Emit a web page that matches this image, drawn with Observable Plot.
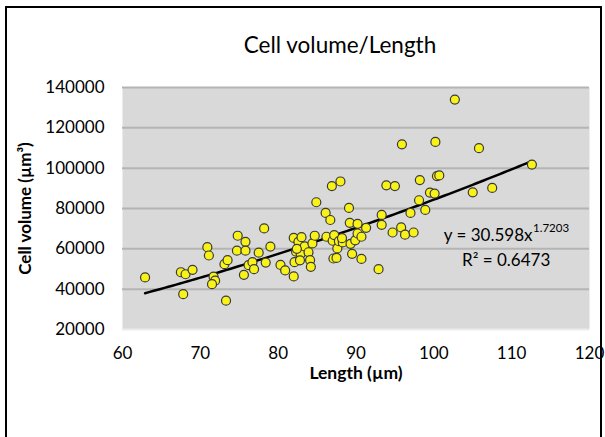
<!DOCTYPE html>
<html>
<head>
<meta charset="utf-8">
<script src="https://cdn.jsdelivr.net/npm/d3@7"></script>
<script src="https://cdn.jsdelivr.net/npm/@observablehq/plot@0.6"></script>
<style>
  html, body { margin: 0; padding: 0; background: #fff; width: 605px; height: 437px; overflow: hidden; }
  #frame { position: absolute; left: 5px; top: 6px; width: 597px; height: 460px; border: 2.5px solid #000; box-sizing: border-box; }
  #title { position: absolute; left: 140px; width: 400px; top: 31px; text-align: center; font-family: Lato, sans-serif; font-size: 22.5px; color: #000; }
  #chart { position: absolute; left: 0; top: 60px; }
</style>
</head>
<body>
<div id="frame"></div>
<div id="title">Cell volume/Length</div>
<div id="chart"></div>
<script>
const lengths = [62.9, 67.5, 68.1, 69.0, 67.8, 70.9, 71.1, 71.7, 71.9, 71.5, 73.3, 73.1, 73.5, 74.8, 74.7, 75.8, 75.8, 75.6, 76.2, 76.7, 76.9, 77.5, 78.2, 78.4, 79.0, 80.3, 80.9, 82.0, 82.0, 82.1, 82.3, 82.6, 83.0, 82.9, 82.8, 83.4, 83.9, 84.1, 84.2, 84.4, 84.7, 84.9, 86.1, 86.2, 86.7, 86.9, 88.0, 87.0, 87.2, 87.1, 87.5, 87.6, 87.8, 88.3, 89.1, 89.2, 89.3, 89.5, 89.9, 90.2, 90.2, 90.7, 90.7, 91.3, 92.9, 93.3, 93.3, 93.9, 95.0, 94.7, 95.9, 95.8, 96.3, 97.0, 97.4, 98.2, 98.1, 98.9, 99.5, 100.1, 100.2, 100.4, 100.7, 102.7, 105.0, 105.8, 107.5, 112.6, 82.4, 88.2];
const volumes = [45800, 48400, 47400, 49600, 37500, 60800, 56700, 46200, 44200, 42500, 34300, 52400, 54400, 66500, 59100, 63500, 59100, 47100, 51900, 53400, 49900, 58100, 70100, 53200, 61100, 52000, 49300, 46300, 65400, 53400, 58600, 63500, 65800, 57500, 54300, 61200, 58300, 54400, 51100, 62700, 66500, 83100, 77800, 66000, 74300, 91100, 93400, 64000, 66800, 55200, 55500, 60200, 63800, 63200, 80300, 72900, 62500, 57500, 64200, 72400, 67600, 66000, 55000, 70400, 49900, 76800, 71900, 91500, 91100, 68100, 111800, 70600, 67000, 77800, 68100, 94100, 84100, 79300, 87900, 87400, 113000, 96100, 96400, 134000, 88000, 109900, 90200, 101800, 60000, 65300];
const yTicks = [20000, 40000, 60000, 80000, 100000, 120000, 140000];
const xTicks = [60, 70, 80, 90, 100, 110, 120];
const trendA = 30.598, trendB = 1.7203;
const trendRange = [62.9, 112.6];
const eqText = "y = 30.598x", eqExp = "1.7203", r2Text = "R² = 0.6473";

const points = lengths.map((l, i) => ({length: l, volume: volumes[i]}));
const trendX = d3.range(trendRange[0], trendRange[1] + 0.001, 0.5);
const trend = trendX.map(x => ({length: x, volume: trendA * Math.pow(x, trendB)}));

const font = "Lato, sans-serif";
const chart = Plot.plot({
  width: 605,
  height: 340,
  marginLeft: 122,
  marginRight: 16,
  marginTop: 27,
  marginBottom: 71,
  style: {fontFamily: font, fontSize: "17px", color: "#000", background: "transparent", overflow: "visible"},
  x: {domain: [60, 120], ticks: xTicks, tickSize: 0, tickPadding: 17, label: null, tickFormat: d => String(d)},
  y: {domain: [20000, 140000], ticks: yTicks, tickSize: 0, tickPadding: 18, label: null, tickFormat: d => String(d)},
  marks: [
    Plot.frame({fill: "#d9d9d9", stroke: null}),
    Plot.ruleY(yTicks.slice(1), {stroke: "#b4b4b4", strokeWidth: 2}),
    Plot.ruleY([20000], {stroke: "#ececec", strokeWidth: 2}),
    Plot.line(trend, {x: "length", y: "volume", stroke: "#000", strokeWidth: 2.5}),
    Plot.dot(points, {x: "length", y: "volume", r: 4.5, fill: "#f8f218", stroke: "#3a3a3a", strokeWidth: 1.2}),
    Plot.text([eqText], {x: 112.68, y: 66600, text: d => d, textAnchor: "end", fontSize: 17, fill: "#000"}),
    Plot.text([eqExp], {x: 112.68, y: 66600, text: d => d, textAnchor: "start", fontSize: 11.5, dy: -7, dx: 0.5, fill: "#000"}),
    Plot.text([r2Text], {x: 109.3, y: 54200, text: d => d, textAnchor: "middle", fontSize: 17, fill: "#000"}),
    Plot.text(["Length (µm)"], {frameAnchor: "bottom", text: d => d, dy: 49, fontSize: 17.5, fontWeight: "bold", fill: "#000"}),
    Plot.text(["Cell volume (µm³)"], {frameAnchor: "left", textAnchor: "middle", text: d => d, dx: -97, rotate: -90, fontSize: 17, fontWeight: "bold", fill: "#000"})
  ]
});
document.getElementById("chart").appendChild(chart);
</script>
</body>
</html>
